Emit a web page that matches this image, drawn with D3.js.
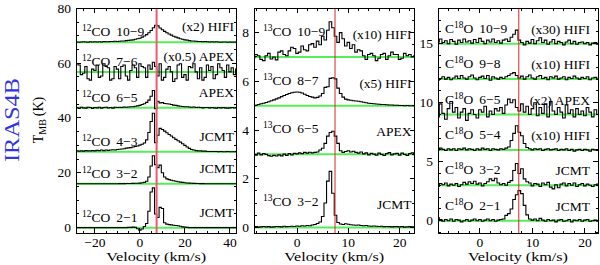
<!DOCTYPE html>
<html>
<head>
<meta charset="utf-8">
<script src="https://cdn.jsdelivr.net/npm/d3@7"></script>
<style>
  body { margin: 0; background: #fff; }
  svg { display: block; }
  text { font-family: 'Liberation Serif', 'Times New Roman', serif; font-size: 13.5px; fill: #000; }
</style>
</head>
<body>
<svg id="chart" width="600" height="265"></svg>
<script>
'use strict';

// source velocity (red line), km/s
var vlsr = 7.4;

// ---- 12CO, channels of 1 km/s starting at -28 km/s (T above baseline, K)
var co12V0 = -28, co12Dv = 1;
var co12_21 = [
  0, 0, 0, 0, 0, 0, 0, 0, 0, 0,
  0, 0, 0, 0, 0, 0, 0, 0, 0, 0,
  0, 0, 0, 0.1, 0.1, 0.2, 0.1, -0.4, -0.9, -0.5,
  0.4, 1.5, 6, 13, 14.5, 5, 3.7, 7.4, 7, 1.8,
  1.3, 1.1, 1, 0.9, 0.8, 0.7, 0.5, 0.3, 0.2, 0.1,
  0, 0, 0, 0, 0, 0, 0, 0, 0, 0,
  0, 0, 0, 0, 0, 0, 0, 0, 0, 0,
  0, 0
];
var co12_32 = [
  0, 0, 0, 0, 0, 0, 0, 0, 0, 0,
  0, 0, 0, 0, 0, 0, 0, 0, 0, 0.05,
  0.05, 0.05, 0.1, 0.1, 0.1, 0.15, 0.2, 0.2, 0.25, 0.35,
  0.5, 0.9, 2.5, 6.5, 10.2, 7, 5.9, 6.8, 4, 2.5,
  1.8, 1.5, 1.3, 1.1, 0.9, 0.75, 0.6, 0.5, 0.4, 0.3,
  0.25, 0.2, 0.15, 0.1, 0.1, 0.05, 0.05, 0, 0, 0,
  0, 0, 0, 0, 0, 0, 0, 0, 0, 0,
  0, 0
];
var co12_43 = [
  0.3, 0.2, 0.3, 0.2, 0.4, 0.3, 0.3, 0.4, 0.3, 0.5,
  0.4, 0.6, 0.4, 0.6, 0.5, 0.6, 0.7, 0.6, 0.8, 0.9,
  1.0, 1.1, 1.3, 1.4, 1.5, 1.7, 1.9, 2.1, 2.4, 2.7,
  3.2, 4.3, 7, 11, 14, 3.3, 6, 8.5, 8.1, 7.5,
  6.9, 6.3, 5.7, 5.1, 4.5, 4.0, 3.5, 2.9, 2.3, 1.7,
  1.2, 0.8, 0.6, 0.4, 0.3, 0.3, 0.2, 0.2, 0.1, 0.1,
  0.1, 0.1, 0.1, 0, 0.1, 0, 0, 0.1, 0, 0,
  0, 0.1
];
var co12_65 = [
  0.1, -0.2, 0.2, 0, -0.1, 0.2, 0.1, -0.2, 0.1, 0,
  0.2, -0.1, 0.1, 0.2, 0, 0.1, -0.1, 0.2, 0.1, 0.2,
  0.1, 0.3, 0.2, 0.3, 0.4, 0.4, 0.6, 0.7, 0.9, 1.2,
  1.5, 2.0, 2.8, 4.2, 6.3, -0.3, 2.4, 1.8, 1.9, 1.6,
  1.5, 1.4, 1.2, 1.0, 0.9, 0.7, 0.6, 0.5, 0.4, 0.4,
  0.3, 0.2, 0.3, 0.1, 0.2, 0.1, 0, 0.1, 0.1, 0,
  0.1, 0, -0.1, 0.1, 0, 0.1, 0, -0.1, 0, 0.1,
  0, 0.1
];
var co12_76 = [
  3, 2.5, -1, -0.5, 2, -2.5, -3, 1, 0.5, 2.5,
  -2, -1.5, 3, 2, 1.5, -3, -2.5, 2, 1, -2.5,
  2, 2.5, -1.5, -3, 0.5, 2.5, 1.5, -2, 3, 2,
  1.5, -2, 2.5, 1, 3.5, 2, -1.5, 3, -3, -2,
  1, 2, 0, -3.5, -2.5, 2.5, 3, -2, -1, -3,
  2, 1.5, 3, 0, -2.5, 1.5, -3, -2, 2.5, 0.5,
  2, -2.5, -1, 3, 1.5, 0.5, -2, 2.5, 0, 1.5,
  -1, 1
];
var co12_109 = [
  0.1, 0, 0.1, 0.2, 0.1, 0, 0.2, 0.1, 0.2, 0.1,
  0.2, 0.1, 0.3, 0.2, 0.2, 0.3, 0.3, 0.4, 0.3, 0.4,
  0.5, 0.5, 0.6, 0.7, 0.8, 0.9, 1.1, 1.3, 1.5, 1.9,
  2.3, 2.8, 3.5, 4.3, 5.3, 6.2, 6.0, 5.2, 4.6, 4.0,
  3.5, 3.0, 2.6, 2.2, 1.9, 1.6, 1.3, 1.1, 0.9, 0.8,
  0.6, 0.5, 0.5, 0.4, 0.3, 0.3, 0.2, 0.3, 0.2, 0.1,
  0.2, 0.1, 0.2, 0.1, 0, 0.1, 0.1, 0, 0.1, 0,
  0.1, 0
];
var co12Trans = ['2\u22121', '3\u22122', '4\u22123', '6\u22125', '7\u22126', '10\u22129'];
var co12Inst = ['JCMT', 'JCMT', 'JCMT', 'APEX', '(x0.5) APEX', '(x2) HIFI'];
var co12Base = [0, 16, 27.7, 43.7, 56.8, 67.6];
var co12XTicks = [-20, 0, 20, 40];
var co12YTicks = [0, 20, 40, 60, 80];

// ---- 13CO and C18O, channels of 0.5 km/s starting at -8.5 km/s
var isoV0 = -8.5, isoDv = 0.5;
var co13_32 = [
  0.02, 0.03, 0.01, 0.02, 0.04, 0.02, 0.03, 0.01,
  0.02, 0.04, 0.03, 0.02, 0.05, 0.03, 0.04, 0.05,
  0.04, 0.06, 0.05, 0.07, 0.06, 0.08, 0.07, 0.1,
  0.12, 0.16, 0.22, 0.45, 1.0, 1.9, 2.3, 1.4,
  0.5, 0.2, 0.14, 0.12, 0.15, 0.13, 0.11, 0.1,
  0.09, 0.1, 0.08, 0.07, 0.08, 0.06, 0.05, 0.06,
  0.05, 0.04, 0.05, 0.03, 0.04, 0.03, 0.02, 0.03,
  0.03, 0.02, 0.03, 0.01, 0.02, 0.03, 0.02, 0.01
];
var co13_65 = [
  0.02, -0.03, 0.05, -0.02, 0.03, 0.0, -0.05, -0.08,
  -0.04, -0.07, -0.02, -0.06, 0.01, -0.04, 0.03, -0.02,
  0.04, 0.02, 0.06, 0.03, 0.08, 0.05, 0.09, 0.06,
  0.08, 0.1, 0.18, 0.25, 0.45, 0.75, 0.9, 0.95,
  0.75, 0.45, 0.15, 0.08, 0.12, 0.15, 0.1, 0.13,
  0.08, 0.05, 0.1, 0.02, 0.06, -0.02, 0.04, 0.01,
  -0.03, 0.05, 0.0, -0.04, 0.03, 0.07, -0.02, 0.02,
  0.04, -0.03, 0.05, 0.0, -0.04, 0.03, 0.06, -0.01
];
var co13_87 = [
  0.0, 0.02, 0.05, 0.08, 0.1, 0.13, 0.16, 0.2,
  0.24, 0.28, 0.32, 0.37, 0.42, 0.46, 0.5, 0.53,
  0.55, 0.56, 0.55, 0.52, 0.47, 0.42, 0.38, 0.35,
  0.32, 0.34, 0.4, 0.5, 0.75, 0.78, 1.12, 1.15,
  1.1, 0.72, 0.5, 0.35, 0.27, 0.24, 0.22, 0.2,
  0.19, 0.18, 0.16, 0.14, 0.12, 0.1, 0.09, 0.08,
  0.07, 0.06, 0.05, 0.05, 0.04, 0.03, 0.03, 0.02,
  0.02, 0.01, 0.01, 0.0, 0.01, 0.0, 0.0, 0.0
];
var co13_109 = [
  -0.05, 0.1, 0.05, -0.1, -0.15, 0.05, 0.15, -0.08,
  0.0, -0.12, 0.2, 0.25, 0.1, 0.05, 0.25, 0.4,
  0.35, 0.15, 0.2, 0.45, 0.3, 0.25, 0.5, 0.55,
  0.4, 0.65, 0.5, 0.85, 0.7, 1.1, 1.45, 1.2,
  0.85, 0.6, 1.0, 0.75, 0.45, 0.6, 0.35, 0.5,
  0.2, 0.3, 0.25, 0.05, -0.1, 0.1, 0.15, 0.05,
  -0.15, -0.05, 0.1, 0.15, -0.1, 0.05, 0.2, 0.1,
  0.1, -0.1, -0.05, 0.15, 0.05, 0.1, 0.0, 0.05
];
var co13Trans = ['3\u22122', '6\u22125', '8\u22127', '10\u22129'];
var co13Inst = ['JCMT', 'APEX', '(x5) HIFI', '(x10) HIFI'];
var co13Base = [0, 3, 5, 7];
var co13XTicks = [0, 10, 20];
var co13YTicks = [0, 2, 4, 6, 8];

var c18o_21 = [
  0.05, 0.25, 0.1, -0.05, 0.1, 0.0, 0.15, -0.05,
  0.1, 0.05, -0.1, 0.0, 0.1, -0.05, 0.05, 0.15,
  0.0, 0.1, -0.05, 0.05, 0.15, 0.0, 0.1, -0.05,
  0.05, 0.1, 0.15, 0.45, 0.6, 1.0, 1.8, 2.2,
  2.55, 2.3, 1.3, 0.5, 0.15, 0.05, 0.15, 0.0,
  0.2, 0.05, -0.05, 0.1, 0.0, 0.05, -0.1, 0.05,
  0.1, -0.05, 0.0, 0.1, -0.1, 0.05, 0.0, 0.1,
  -0.05, 0.05, 0.1, -0.05, 0.0, 0.05, -0.05, 0.0
];
var c18o_32 = [
  0.1, -0.1, 0.15, 0.05, 0.2, -0.05, 0.1, 0.0,
  0.15, -0.1, 0.05, 0.25, 0.1, 0.3, 0.15, 0.35,
  0.1, 0.2, -0.05, 0.15, 0.3, 0.55, 0.4, 0.6,
  0.2, 0.05, 0.15, 0.0, 0.25, 0.4, 1.25, 1.85,
  1.0, 1.4, 0.55, 0.3, 0.2, -0.05, 0.15, 0.1,
  -0.1, 0.2, 0.05, 0.25, -0.15, -0.3, 0.05, -0.2,
  0.1, 0.2, -0.05, 0.15, 0.0, 0.2, -0.1, 0.05,
  0.15, -0.05, 0.1, 0.0, -0.1, 0.05, 0.1, 0.0
];
var c18o_54 = [
  0.1, 0.0, 0.15, 0.05, -0.05, 0.1, 0.0, 0.1,
  -0.05, 0.1, 0.05, 0.15, 0.0, 0.1, 0.05, -0.05,
  0.1, 0.0, 0.15, 0.05, 0.1, -0.05, 0.1, 0.05,
  0.0, 0.1, 0.05, 0.15, 0.25, 0.8, 1.4, 2.05,
  1.5, 1.2, 0.55, 0.2, 0.1, 0.0, 0.1, 0.05,
  0.1, -0.05, 0.05, 0.1, 0.0, 0.05, 0.1, -0.05,
  0.05, 0.0, 0.1, -0.05, 0.05, -0.1, 0.0, 0.05,
  -0.05, 0.05, 0.0, -0.1, 0.05, 0.0, -0.05, 0.05
];
var c18o_65 = [
  0.3, -0.2, 0.9, 0.1, -0.4, 0.5, 1.1, 0.2,
  0.6, -0.3, 0.2, 0.5, -0.5, 0.1, 0.4, 0.0,
  -0.3, 0.4, 0.2, 0.7, -0.2, 0.3, 0.0, 0.5,
  0.3, 0.6, 0.1, 0.8, 1.3, 1.0, 1.25, 0.6,
  0.3, 0.9, 0.2, 0.7, 0.0, 0.5, 1.0, -0.1,
  0.6, 0.1, 0.9, -0.2, 1.1, 0.3, 0.0, 0.6,
  0.2, -0.3, 0.8, 0.1, 0.4, -0.2, 0.5, 0.0,
  0.3, -0.1, 0.6, 0.2, -0.2, 0.4, 0.0, 0.2
];
var c18o_98 = [
  0.1, -0.1, 0.05, 0.2, 0.0, 0.15, -0.05, 0.1,
  0.25, 0.05, 0.3, 0.1, 0.0, 0.2, 0.35, 0.1,
  -0.05, 0.15, 0.25, 0.05, 0.3, -0.1, 0.2, 0.1,
  0.0, 0.15, 0.05, 0.2, 0.3, 0.45, 0.55, 0.3,
  0.1, 0.25, 0.0, 0.2, 0.35, 0.1, 0.0, 0.2,
  0.3, 0.05, 0.15, -0.05, 0.2, 0.1, 0.25, 0.0,
  0.1, 0.2, -0.05, 0.15, 0.05, 0.25, 0.1, 0.0,
  0.15, 0.05, 0.2, -0.05, 0.1, 0.15, 0.0, 0.1
];
var c18o_109 = [
  0.3, 0.15, 0.4, 0.1, 0.25, 0.0, 0.35, 0.2,
  -0.05, 0.3, 0.1, 0.4, 0.15, 0.25, 0.05, 0.35,
  0.1, 0.45, 0.2, 0.0, 0.3, 0.15, 0.4, 0.1,
  0.25, 0.05, 0.3, 0.4, 0.2, 0.55, 0.8, 1.15,
  0.3, 0.1, -0.1, 0.2, 0.05, 0.35, 0.0, 0.25,
  0.5, 0.1, 0.3, -0.05, 0.15, 0.35, 0.0, 0.2,
  0.1, -0.1, 0.15, 0.3, 0.0, 0.2, -0.05, 0.1,
  0.15, 0.0, 0.1, -0.1, 0.05, 0.1, -0.05, 0.0
];
var c18oTrans = ['2\u22121', '3\u22122', '5\u22124', '6\u22125', '9\u22128', '10\u22129'];
var c18oInst = ['JCMT', 'JCMT', '(x10) HIFI', '(x2) APEX', '(x10) HIFI', '(x30) HIFI'];
var c18oBase = [0, 3, 6, 9, 12, 15];
var c18oXTicks = [0, 10, 20];
var c18oYTicks = [0, 5, 10, 15];

var svg = d3.select('#chart');
var TOP = 8.3, BOTTOM = 233;
var fmt = d3.format('d');

function steps(d0, d1, s) {
  var out = [];
  for (var v = Math.ceil(d0 / s - 1e-6) * s; v <= d1 + 1e-6; v += s) {
    out.push(+v.toFixed(4));
  }
  return out;
}

function nameLabel(g, x, y, pre, sup, post, trans) {
  var t = g.append('text').attr('x', x).attr('y', y);
  if (pre) {
    t.append('tspan').text(pre);
  }
  t.append('tspan').attr('dy', -5).attr('font-size', 9.5).text(sup);
  t.append('tspan').attr('dy', 5).text(post);
  t.append('tspan').attr('dx', 6).text(trans);
}

function drawPanel(p) {
  var x = d3.scaleLinear().domain(p.xDomain).range([p.left, p.right]);
  var y = d3.scaleLinear().domain(p.yDomain).range([BOTTOM, TOP]);
  var g = svg.append('g');
  var id = 'clip' + Math.round(p.left);

  svg.append('clipPath').attr('id', id).append('rect')
    .attr('x', p.left).attr('y', TOP)
    .attr('width', p.right - p.left).attr('height', BOTTOM - TOP);
  var inner = g.append('g').attr('clip-path', 'url(#' + id + ')');

  // green zero levels
  p.spectra.forEach(function (s) {
    inner.append('line')
      .attr('x1', p.left).attr('x2', p.right)
      .attr('y1', y(s.base)).attr('y2', y(s.base))
      .attr('stroke', '#55ee55').attr('stroke-width', 2);
  });

  var line = d3.line().curve(d3.curveStep);
  p.spectra.forEach(function (s) {
    var pts = s.values.map(function (t, i) {
      return [x(p.v0 + i * p.dv), y(s.base + t)];
    });
    inner.append('path').attr('d', line(pts))
      .attr('fill', 'none').attr('stroke', '#000').attr('stroke-width', 1.1);
  });

  inner.append('line')
    .attr('x1', x(vlsr)).attr('x2', x(vlsr))
    .attr('y1', TOP).attr('y2', BOTTOM)
    .attr('stroke', p.redColor).attr('stroke-width', p.redWidth);

  // frame and ticks
  var ax = g.append('g').attr('stroke', '#000').attr('stroke-width', 1)
    .attr('shape-rendering', 'crispEdges');
  ax.append('rect')
    .attr('x', p.left).attr('y', TOP)
    .attr('width', p.right - p.left).attr('height', BOTTOM - TOP)
    .attr('fill', 'none');

  function xTick(v, len) {
    ax.append('line').attr('x1', x(v)).attr('x2', x(v)).attr('y1', BOTTOM).attr('y2', BOTTOM - len);
    ax.append('line').attr('x1', x(v)).attr('x2', x(v)).attr('y1', TOP).attr('y2', TOP + len);
  }
  function yTick(v, len) {
    ax.append('line').attr('y1', y(v)).attr('y2', y(v)).attr('x1', p.left).attr('x2', p.left + len);
    ax.append('line').attr('y1', y(v)).attr('y2', y(v)).attr('x1', p.right).attr('x2', p.right - len);
  }
  steps(p.xDomain[0], p.xDomain[1], p.xMinor).forEach(function (v) { xTick(v, 2.5); });
  steps(p.yDomain[0], p.yDomain[1], p.yMinor).forEach(function (v) { yTick(v, 2.5); });
  p.xTicks.forEach(function (v) { xTick(v, 5); });
  p.yTicks.forEach(function (v) { yTick(v, 5); });

  p.xTicks.forEach(function (v) {
    g.append('text').attr('x', x(v)).attr('y', 247)
      .attr('text-anchor', 'middle').text(fmt(v));
  });
  p.yTicks.forEach(function (v) {
    g.append('text').attr('x', p.left - 5).attr('y', y(v) + 4.5)
      .attr('text-anchor', 'end').text(fmt(v));
  });
  g.append('text').attr('x', (p.left + p.right) / 2).attr('y', 261)
    .attr('text-anchor', 'middle')
    .attr('textLength', 100).attr('lengthAdjust', 'spacingAndGlyphs')
    .text('Velocity (km/s)');

  // line labels
  p.spectra.forEach(function (s) {
    var yb = y(s.base);
    nameLabel(g, p.left + p.nameDx, yb - p.nameDy, p.pre, p.sup, p.post, s.trans);
    g.append('text').attr('x', p.right - p.instDx).attr('y', yb - p.instDy)
      .attr('text-anchor', 'end').text(s.inst);
  });
}

function makeSpectra(valueList, bases, trans, inst) {
  return valueList.map(function (vals, i) {
    return { values: vals, base: bases[i], trans: trans[i], inst: inst[i] };
  });
}

drawPanel({
  left: 76, right: 236.5, xDomain: [-28.4, 42.9], yDomain: [-1.95, 80],
  v0: co12V0, dv: co12Dv, xMinor: 5, yMinor: 5,
  xTicks: co12XTicks, yTicks: co12YTicks,
  pre: '', sup: '12', post: 'CO',
  nameDx: 6, nameDy: 6, instDx: 2.5, instDy: 11,
  redColor: '#ee5a6a', redWidth: 2,
  spectra: makeSpectra([co12_21, co12_32, co12_43, co12_65, co12_76, co12_109],
    co12Base, co12Trans, co12Inst)
});

drawPanel({
  left: 254, right: 414.5, xDomain: [-8.4, 22.9], yDomain: [-0.23, 9],
  v0: isoV0, dv: isoDv, xMinor: 2, yMinor: 0.5,
  xTicks: co13XTicks, yTicks: co13YTicks,
  pre: '', sup: '13', post: 'CO',
  nameDx: 9, nameDy: 21, instDx: 3, instDy: 18,
  redColor: '#d92626', redWidth: 1,
  spectra: makeSpectra([co13_32, co13_65, co13_87, co13_109],
    co13Base, co13Trans, co13Inst)
});

drawPanel({
  left: 438, right: 598, xDomain: [-8, 22.5], yDomain: [-1.04, 18],
  v0: isoV0, dv: isoDv, xMinor: 2, yMinor: 1,
  xTicks: c18oXTicks, yTicks: c18oYTicks,
  pre: 'C', sup: '18', post: 'O',
  nameDx: 7, nameDy: 11, instDx: 8, instDy: 10,
  redColor: '#d92626', redWidth: 1,
  spectra: makeSpectra([c18o_21, c18o_32, c18o_54, c18o_65, c18o_98, c18o_109],
    c18oBase, c18oTrans, c18oInst)
});

// y axis title
var ty = svg.append('text').attr('transform', 'translate(43,120) rotate(-90)')
  .attr('text-anchor', 'middle').style('font-size', '14px');
ty.append('tspan').text('T');
ty.append('tspan').attr('dy', 3).style('font-size', '10px').text('MB');
ty.append('tspan').attr('dy', -3).attr('dx', 3).text('(K)');

svg.append('text').attr('transform', 'translate(19,120) rotate(-90)')
  .attr('text-anchor', 'middle')
  .style('font-size', '21px').style('fill', '#3535e0')
  .attr('textLength', 84).attr('lengthAdjust', 'spacingAndGlyphs')
  .text('IRAS4B');
</script>
</body>
</html>
